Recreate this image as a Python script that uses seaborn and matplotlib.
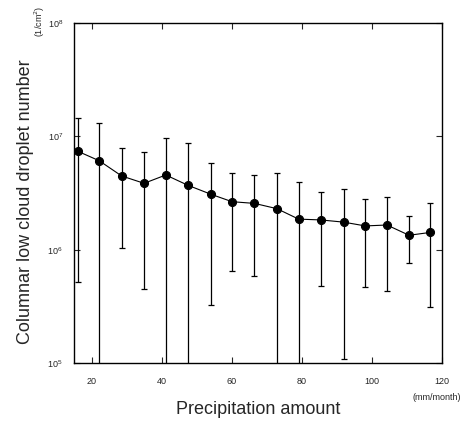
import numpy as np
import matplotlib
matplotlib.use("Agg")
import matplotlib.pyplot as plt
import seaborn as sns
import pandas as pd

# Precipitation bins (mm/month) and columnar droplet number (1/cm2)
precip = [16.1, 22.2, 28.6, 35.0, 41.2, 47.5, 54.1, 60.1, 66.5, 72.9,
          79.1, 85.4, 91.9, 98.1, 104.3, 110.6, 116.7]
droplet = [7.38e6, 6.09e6, 4.47e6, 3.85e6, 4.56e6, 3.70e6, 3.08e6, 2.65e6, 2.56e6,
           2.30e6, 1.86e6, 1.83e6, 1.75e6, 1.62e6, 1.65e6, 1.34e6, 1.42e6]
upper = [1.45e7, 1.30e7, 7.89e6, 7.27e6, 9.72e6, 8.79e6, 5.78e6, 4.72e6, 4.53e6,
         4.72e6, 3.93e6, 3.25e6, 3.45e6, 2.80e6, 2.90e6, 1.97e6, 2.56e6]
# lower bounds below 1e5 are cut by the axis
lower = [5.19e5, 1e4, 1.03e6, 4.50e5, 1e4, 1e4, 3.25e5, 6.52e5, 5.89e5,
         1e4, 1e4, 4.81e5, 1.08e5, 4.71e5, 4.32e5, 7.59e5, 3.14e5]

df = pd.DataFrame({"precip": precip, "droplet": droplet, "upper": upper, "lower": lower})

sns.set_style("ticks")
plt.rcParams["font.family"] = ["Liberation Sans", "DejaVu Sans"]

fig = plt.figure(figsize=(4.73, 4.34), dpi=100)
ax = fig.add_axes([0.1564, 0.1636, 0.9345 - 0.1564, 0.947 - 0.1636])

# Error bars
ax.errorbar(df["precip"], df["droplet"],
            yerr=[df["droplet"] - df["lower"], df["upper"] - df["droplet"]],
            fmt="none", ecolor="black", elinewidth=0.9, capsize=2.2, capthick=0.9)

# Mean line with markers
sns.lineplot(data=df, x="precip", y="droplet", marker="o", color="black",
             linewidth=0.8, markersize=5.8, markeredgecolor="black", ax=ax)

ax.set_yscale("log")
ax.set_xlim(15, 120)
ax.set_ylim(1e5, 1e8)
ax.set_xticks([20, 40, 60, 80, 100, 120])
ax.set_yticks([1e5, 1e6, 1e7, 1e8])
ax.yaxis.set_minor_locator(matplotlib.ticker.NullLocator())
ax.tick_params(which="major", direction="in", top=True, right=True,
               length=4, width=0.8, labelsize=6.5, pad=8)
ax.tick_params(axis="x", pad=10)
for s in ax.spines.values():
    s.set_linewidth(1.0)
    s.set_color("black")

ax.set_xlabel("")
ax.set_ylabel("")
fig.text(25.5 / 473, 1 - 202 / 434, "Columnar low cloud droplet number",
         rotation=90, ha="center", va="center", fontsize=13)
fig.text(40 / 473, 1 - 21 / 434, "(1/cm$^2$)", rotation=90,
         ha="center", va="center", fontsize=6.5)
fig.text(258 / 473, 1 - 410 / 434, "Precipitation amount",
         ha="center", va="center", fontsize=13)
fig.text(437 / 473, 1 - 397 / 434, "(mm/month)", ha="center", va="center", fontsize=6.5)

fig.savefig("out.png", dpi=100)
